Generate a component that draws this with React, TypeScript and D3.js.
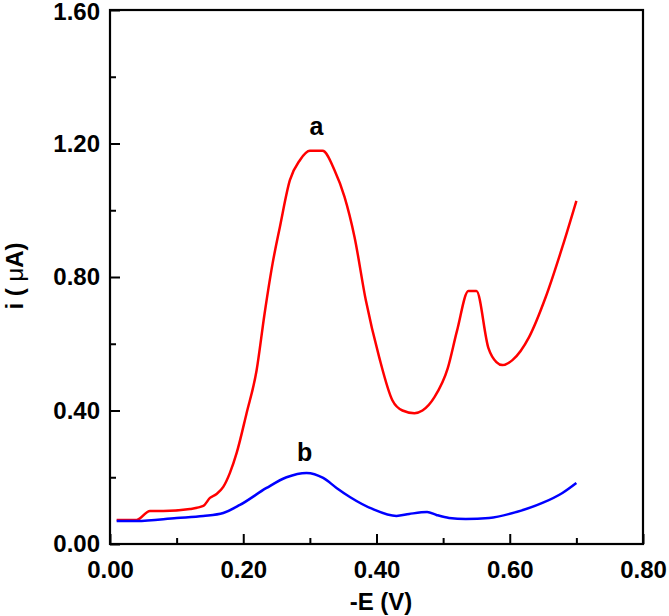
import { useEffect, useRef } from 'react'
import * as d3 from 'd3'

// curve a (red)
const potA = [0.01, 0.04, 0.06, 0.08, 0.12, 0.14, 0.15, 0.16, 0.17, 0.18, 0.19, 0.205, 0.22, 0.232, 0.244, 0.255, 0.27, 0.285, 0.30, 0.319, 0.337, 0.352, 0.367, 0.384, 0.404, 0.424, 0.439, 0.457, 0.469, 0.487, 0.507, 0.521, 0.538, 0.55, 0.568, 0.58, 0.589, 0.604, 0.629, 0.654, 0.679, 0.70]
const curA = [0.072, 0.072, 0.099, 0.099, 0.105, 0.114, 0.138, 0.15, 0.171, 0.213, 0.272, 0.392, 0.52, 0.69, 0.84, 0.95, 1.09, 1.15, 1.178, 1.178, 1.12, 1.04, 0.92, 0.73, 0.56, 0.43, 0.40, 0.392, 0.40, 0.44, 0.527, 0.64, 0.758, 0.758, 0.587, 0.545, 0.536, 0.551, 0.62, 0.74, 0.89, 1.028]

// curve b (blue)
const potB = [0.01, 0.04, 0.10, 0.14, 0.17, 0.195, 0.235, 0.265, 0.295, 0.32, 0.34, 0.36, 0.394, 0.43, 0.449, 0.476, 0.49, 0.509, 0.534, 0.569, 0.61, 0.649, 0.679, 0.70]
const curB = [0.069, 0.069, 0.078, 0.084, 0.093, 0.117, 0.168, 0.20, 0.213, 0.198, 0.168, 0.141, 0.105, 0.084, 0.09, 0.096, 0.087, 0.078, 0.075, 0.078, 0.096, 0.123, 0.153, 0.183]

const xMajor = [0, 0.2, 0.4, 0.6, 0.8]
const xMinor = [0.1, 0.3, 0.5, 0.7]
const yMajor = [0, 0.4, 0.8, 1.2, 1.6]
const yMinor = [0.2, 0.6, 1.0, 1.4]

const W = 669
const H = 616
const font = 'Arial, "Liberation Sans", Helvetica, sans-serif'

export default function App() {
  const svgRef = useRef<SVGSVGElement>(null)

  useEffect(() => {
    const svg = d3.select(svgRef.current)
    svg.selectAll('*').remove()

    const margin = { top: 10, right: 26, bottom: 72, left: 110 }
    const width = W - margin.left - margin.right
    const height = H - margin.top - margin.bottom

    const g = svg.append('g').attr('transform', `translate(${margin.left},${margin.top})`)

    const x = d3.scaleLinear().domain([0, 0.8]).range([0, width])
    const y = d3.scaleLinear().domain([0, 1.6]).range([height, 0])

    // minor ticks first (no labels)
    g.append('g')
      .attr('transform', `translate(0,${height})`)
      .call(d3.axisBottom(x).tickValues(xMinor).tickSize(-6).tickFormat(() => ''))
      .call(a => a.select('.domain').remove())
    g.append('g')
      .call(d3.axisLeft(y).tickValues(yMinor).tickSize(-6).tickFormat(() => ''))
      .call(a => a.select('.domain').remove())

    // major ticks with labels
    const xAxis = g.append('g')
      .attr('transform', `translate(0,${height})`)
      .call(d3.axisBottom(x).tickValues(xMajor).tickSize(-10).tickPadding(17).tickFormat(d3.format('.2f')))
    xAxis.select('.domain').remove()

    const yAxis = g.append('g')
      .call(d3.axisLeft(y).tickValues(yMajor).tickSize(-10).tickPadding(10).tickFormat(d3.format('.2f')))
    yAxis.select('.domain').remove()

    svg.selectAll('.tick line').attr('stroke', '#000').attr('stroke-width', 2)
    svg.selectAll('.tick text')
      .attr('fill', '#000')
      .style('font-family', font)
      .style('font-size', '24px')
      .style('font-weight', 'bold')

    // keep the top label inside the picture
    yAxis.selectAll<SVGTextElement, number>('.tick text')
      .filter(d => d === 1.6)
      .attr('dy', '0.40em')

    // frame
    g.append('rect')
      .attr('width', width)
      .attr('height', height)
      .attr('fill', 'none')
      .attr('stroke', '#000')
      .attr('stroke-width', 2.2)

    const line = d3.line<[number, number]>()
      .x(d => x(d[0]))
      .y(d => y(d[1]))
      .curve(d3.curveMonotoneX)

    const dataA = potA.map((p, i) => [p, curA[i]] as [number, number])
    const dataB = potB.map((p, i) => [p, curB[i]] as [number, number])

    g.append('path')
      .datum(dataA)
      .attr('fill', 'none')
      .attr('stroke', '#ff0000')
      .attr('stroke-width', 2.5)
      .attr('d', line)

    g.append('path')
      .datum(dataB)
      .attr('fill', 'none')
      .attr('stroke', '#0000ff')
      .attr('stroke-width', 2.5)
      .attr('d', line)

    // curve labels
    g.append('text')
      .attr('x', x(0.31))
      .attr('y', y(1.225))
      .attr('text-anchor', 'middle')
      .style('font-family', font)
      .style('font-size', '25px')
      .style('font-weight', 'bold')
      .text('a')

    g.append('text')
      .attr('x', x(0.292))
      .attr('y', y(0.25))
      .attr('text-anchor', 'middle')
      .style('font-family', font)
      .style('font-size', '25px')
      .style('font-weight', 'bold')
      .text('b')

    // axis titles
    svg.append('text')
      .attr('x', 381)
      .attr('y', 610)
      .attr('text-anchor', 'middle')
      .style('font-family', font)
      .style('font-size', '24px')
      .style('font-weight', 'bold')
      .text('-E (V)')

    const yt = svg.append('text')
      .attr('transform', 'translate(23,276) rotate(-90)')
      .attr('text-anchor', 'middle')
      .style('font-family', font)
      .style('font-size', '24px')
      .style('font-weight', 'bold')
    yt.append('tspan').text('i ( ')
    yt.append('tspan').style('font-weight', 'normal').text('μ')
    yt.append('tspan').text('A)')
  }, [])

  return (
    <svg
      ref={svgRef}
      width={W}
      height={H}
      style={{ position: 'absolute', left: 0, top: 0, background: '#fff' }}
    />
  )
}
